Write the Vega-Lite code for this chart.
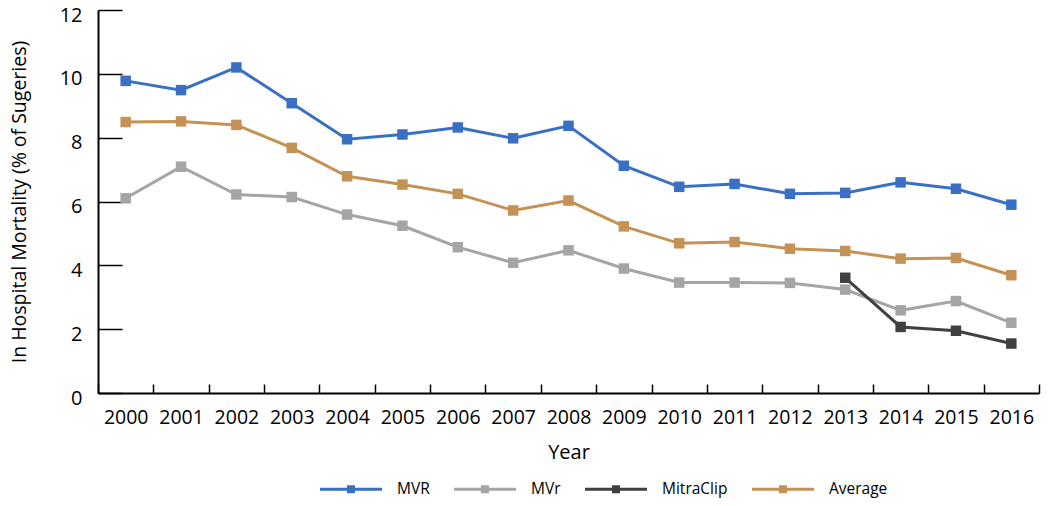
{
  "$schema": "https://vega.github.io/schema/vega-lite/v6.json",
  "autosize": {"type": "none"},
  "width": 941,
  "height": 383,
  "padding": {"left": 98, "top": 10, "right": 11, "bottom": 113},
  "background": "white",
  "config": {
    "view": {"stroke": null},
    "font": "Open Sans",
    "axis": {
      "domainColor": "black",
      "tickColor": "black",
      "domainWidth": 2,
      "tickWidth": 1.5,
      "grid": false,
      "labelColor": "black",
      "titleColor": "black",
      "labelFont": "Open Sans",
      "titleFont": "Open Sans",
      "titleFontWeight": "normal"
    }
  },
  "data": {
    "values": [
      {"year": "2000", "series": "MVR", "value": 9.78},
      {"year": "2001", "series": "MVR", "value": 9.49},
      {"year": "2002", "series": "MVR", "value": 10.2},
      {"year": "2003", "series": "MVR", "value": 9.08},
      {"year": "2004", "series": "MVR", "value": 7.95},
      {"year": "2005", "series": "MVR", "value": 8.1},
      {"year": "2006", "series": "MVR", "value": 8.32},
      {"year": "2007", "series": "MVR", "value": 7.98},
      {"year": "2008", "series": "MVR", "value": 8.37},
      {"year": "2009", "series": "MVR", "value": 7.12},
      {"year": "2010", "series": "MVR", "value": 6.46},
      {"year": "2011", "series": "MVR", "value": 6.55},
      {"year": "2012", "series": "MVR", "value": 6.24},
      {"year": "2013", "series": "MVR", "value": 6.27},
      {"year": "2014", "series": "MVR", "value": 6.6},
      {"year": "2015", "series": "MVR", "value": 6.4},
      {"year": "2016", "series": "MVR", "value": 5.9},
      {"year": "2000", "series": "MVr", "value": 6.1},
      {"year": "2001", "series": "MVr", "value": 7.09},
      {"year": "2002", "series": "MVr", "value": 6.22},
      {"year": "2003", "series": "MVr", "value": 6.14},
      {"year": "2004", "series": "MVr", "value": 5.59},
      {"year": "2005", "series": "MVr", "value": 5.24},
      {"year": "2006", "series": "MVr", "value": 4.57},
      {"year": "2007", "series": "MVr", "value": 4.08},
      {"year": "2008", "series": "MVr", "value": 4.47},
      {"year": "2009", "series": "MVr", "value": 3.9},
      {"year": "2010", "series": "MVr", "value": 3.46},
      {"year": "2011", "series": "MVr", "value": 3.46},
      {"year": "2012", "series": "MVr", "value": 3.45},
      {"year": "2013", "series": "MVr", "value": 3.24},
      {"year": "2014", "series": "MVr", "value": 2.59},
      {"year": "2015", "series": "MVr", "value": 2.88},
      {"year": "2016", "series": "MVr", "value": 2.2},
      {"year": "2013", "series": "MitraClip", "value": 3.61},
      {"year": "2014", "series": "MitraClip", "value": 2.07},
      {"year": "2015", "series": "MitraClip", "value": 1.95},
      {"year": "2016", "series": "MitraClip", "value": 1.55},
      {"year": "2000", "series": "Average", "value": 8.49},
      {"year": "2001", "series": "Average", "value": 8.51},
      {"year": "2002", "series": "Average", "value": 8.4},
      {"year": "2003", "series": "Average", "value": 7.68},
      {"year": "2004", "series": "Average", "value": 6.79},
      {"year": "2005", "series": "Average", "value": 6.53},
      {"year": "2006", "series": "Average", "value": 6.24},
      {"year": "2007", "series": "Average", "value": 5.72},
      {"year": "2008", "series": "Average", "value": 6.03},
      {"year": "2009", "series": "Average", "value": 5.22},
      {"year": "2010", "series": "Average", "value": 4.69},
      {"year": "2011", "series": "Average", "value": 4.73},
      {"year": "2012", "series": "Average", "value": 4.52},
      {"year": "2013", "series": "Average", "value": 4.45},
      {"year": "2014", "series": "Average", "value": 4.21},
      {"year": "2015", "series": "Average", "value": 4.23},
      {"year": "2016", "series": "Average", "value": 3.69}
    ]
  },
  "mark": {
    "type": "line",
    "strokeWidth": 3,
    "point": {"shape": "square", "size": 110, "filled": true, "opacity": 1}
  },
  "encoding": {
    "x": {
      "field": "year",
      "type": "ordinal",
      "bandPosition": 0.5,
      "scale": {"type": "band", "paddingInner": 0, "paddingOuter": 0},
      "axis": {
        "title": "Year",
        "labelAngle": 0,
        "tickBand": "extent",
        "tickSize": -9,
        "labelPadding": 24,
        "labelFontSize": 19.5,
        "titleFontSize": 20,
        "titlePadding": 16
      }
    },
    "y": {
      "field": "value",
      "type": "quantitative",
      "scale": {"domain": [0, 12], "nice": false},
      "axis": {
        "title": "In Hospital Mortality (% of Sugeries)",
        "values": [0, 2, 4, 6, 8, 10, 12],
        "tickSize": -24,
        "labelPadding": 40,
        "labelOffset": 5,
        "labelFontSize": 20,
        "titleFontSize": 19.5,
        "titlePadding": 30
      }
    },
    "color": {
      "field": "series",
      "type": "nominal",
      "scale": {
        "domain": ["MVR", "MVr", "MitraClip", "Average"],
        "range": ["#3A70C4", "#A5A5A5", "#404040", "#C39254"]
      },
      "legend": {
        "title": null,
        "orient": "none",
        "direction": "horizontal",
        "legendX": 222,
        "legendY": 448,
        "symbolType": "M-1,-0.05H1V0.05H-1Z M-0.13,-0.13H0.13V0.13H-0.13Z",
        "symbolSize": 3844,
        "symbolStrokeWidth": 0,
        "labelFontSize": 15.5,
        "labelColor": "black",
        "labelOffset": 15,
        "columnPadding": 24,
        "labelFont": "Open Sans"
      }
    }
  }
}
